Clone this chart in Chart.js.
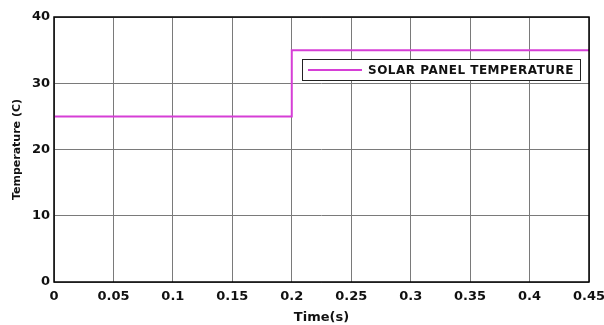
<!DOCTYPE html>
<html><head><meta charset="utf-8">
<script src="https://cdn.jsdelivr.net/npm/chart.js@4/dist/chart.umd.min.js"></script>
<style>html,body{margin:0;padding:0;background:#fff;}#wrap{width:604px;height:325px;position:relative;}</style>
</head><body><div id="wrap"><canvas id="c" width="604" height="325"></canvas></div>
<script>
const seriesLabel = 'SOLAR PANEL TEMPERATURE';
const timeValues = [0, 0.2, 0.2, 0.45];
const temperatureValues = [25, 25, 35, 35];
const xTicks = [0, 0.05, 0.1, 0.15, 0.2, 0.25, 0.3, 0.35, 0.4, 0.45];
const yTicks = [0, 10, 20, 30, 40];

const points = timeValues.map((t, i) => ({x: t, y: temperatureValues[i]}));
const FAM = 'DejaVu Sans, Arial, sans-serif';
const tickFont = {family: FAM, size: 13, weight: 'bold'};

const boxPlugin = {
  id: 'boxAndLegend',
  afterDraw(chart) {
    const {ctx, chartArea: a} = chart;
    ctx.save();
    ctx.strokeStyle = '#000';
    ctx.lineWidth = 1.5;
    ctx.strokeRect(a.left, a.top, a.right - a.left, a.bottom - a.top);
    // legend box
    const x0 = 302, y0 = 59, w = 278, h = 21;
    ctx.fillStyle = '#fff';
    ctx.fillRect(x0, y0, w, h);
    ctx.lineWidth = 1;
    ctx.strokeStyle = '#222';
    ctx.strokeRect(x0 + 0.5, y0 + 0.5, w, h);
    ctx.strokeStyle = '#d63fd6';
    ctx.lineWidth = 2;
    ctx.beginPath(); ctx.moveTo(308, y0 + h/2 + 0.5); ctx.lineTo(362, y0 + h/2 + 0.5); ctx.stroke();
    ctx.fillStyle = '#111';
    ctx.font = 'bold 12px ' + FAM;
    ctx.letterSpacing = '0.5px';
    ctx.textBaseline = 'middle';
    ctx.textAlign = 'left';
    ctx.fillText(chart.data.datasets[0].label, 368, y0 + h/2 + 1);
    ctx.restore();
  }
};

new Chart(document.getElementById('c'), {
  type: 'line',
  data: {datasets: [{
    label: seriesLabel,
    data: points,
    borderColor: '#d63fd6',
    borderWidth: 2,
    pointRadius: 0,
    fill: false,
    tension: 0
  }]},
  options: {
    responsive: false,
    animation: false,
    devicePixelRatio: 1,
    layout: {padding: {left: 8, right: 15, top: 17, bottom: 0}},
    plugins: {legend: {display: false}, tooltip: {enabled: false}},
    scales: {
      x: {
        type: 'linear', min: 0, max: 0.45,
        afterBuildTicks(s) { s.ticks = xTicks.map(v => ({value: v})); },
        afterFit(s) { s.height = 43; s.paddingLeft = 0; s.paddingRight = 0; },
        ticks: {font: tickFont, color: '#111', padding: 7, maxRotation: 0,
          callback: v => String(v)},
        grid: {color: '#7a7a7a', lineWidth: 1, drawTicks: false},
        border: {display: false},
        title: {display: true, text: 'Time(s)', font: {family: FAM, size: 13, weight: 'bold'}, color: '#111', padding: {top: 0, bottom: 0}}
      },
      y: {
        type: 'linear', min: 0, max: 40,
        afterBuildTicks(s) { s.ticks = yTicks.map(v => ({value: v})); },
        afterFit(s) { s.width = 46; s.paddingTop = 0; s.paddingBottom = 0; },
        ticks: {font: tickFont, color: '#111', padding: 4},
        grid: {color: '#7a7a7a', lineWidth: 1, drawTicks: false},
        border: {display: false},
        title: {display: true, text: 'Temperature (C)', font: {family: FAM, size: 11, weight: 'bold'}, color: '#111', padding: {top: 3, bottom: 0}}
      }
    }
  },
  plugins: [boxPlugin]
});
</script></body></html>
